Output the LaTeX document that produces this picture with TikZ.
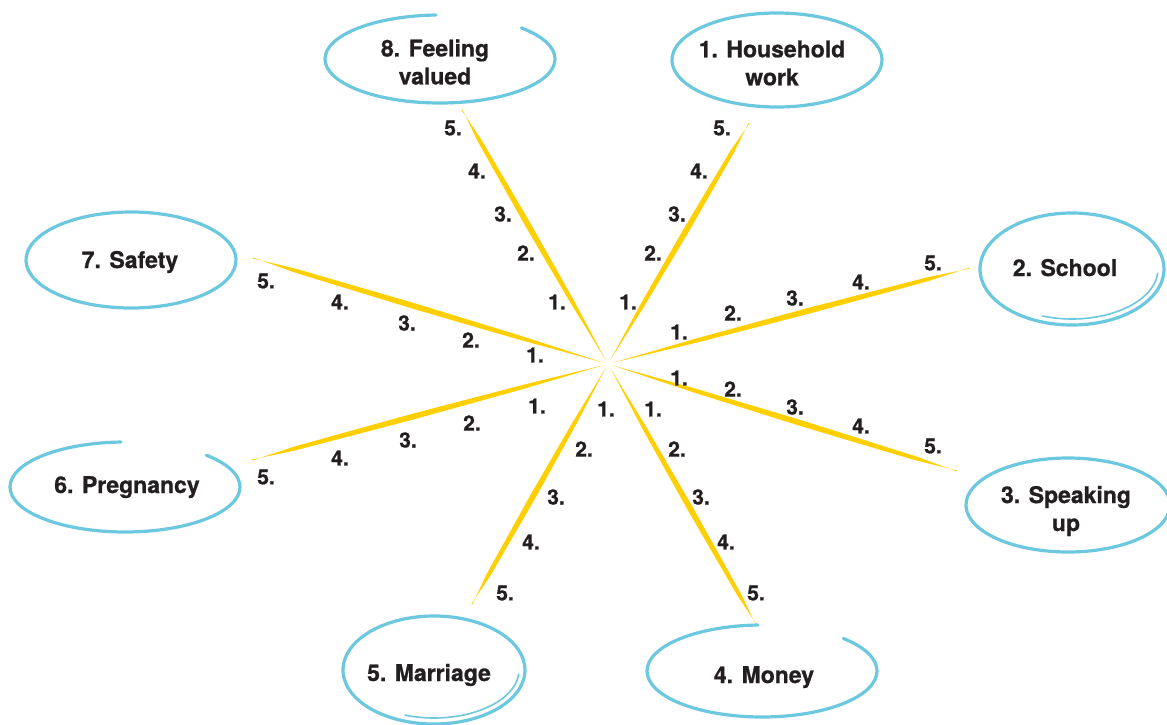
\documentclass[tikz,border=0pt]{standalone}
\usepackage{fontspec}
\setmainfont{TeX Gyre Heros}[BoldFeatures={FakeBold=0.8}]
\usetikzlibrary{calc}
\definecolor{ringblue}{RGB}{108,200,222}
\definecolor{spokeyellow}{RGB}{255,207,0}
\definecolor{ink}{RGB}{35,31,32}
\begin{document}
\begin{tikzpicture}[x=1pt,y=-1pt,
  spoke/.style={fill=spokeyellow},
  ring/.style={draw=ringblue,line width=3.2pt,line cap=round},
  ringthin/.style={draw=ringblue,line width=1.6pt,line cap=round},
  num/.style={text=ink,font=\fontsize{21}{24}\selectfont\bfseries,inner sep=0pt},
  topic/.style={text=ink,font=\fontsize{23}{28}\selectfont\bfseries,inner sep=0pt,align=center}]
\useasboundingbox (0,0) rectangle (1167,725);
\fill[white] (0,0) rectangle (1167,725);

% centre and spoke ends
\coordinate (c) at (608,364);
\coordinate (e1) at (749,123);
\coordinate (e2) at (970,268);
\coordinate (e3) at (957,471);
\coordinate (e4) at (757,626);
\coordinate (e5) at (472,604);
\coordinate (e6) at (252,460);
\coordinate (e7) at (253,258);
\coordinate (e8) at (462,110);

% tapered spokes
\foreach \i in {1,...,8}{
  \fill[spoke] ($(c)!5pt!(e\i)$)
    -- ($(c)!0.25!(e\i)!2.1pt!90:(e\i)$)
    -- ($(c)!0.55!(e\i)!2.9pt!90:(e\i)$)
    -- ($(c)!0.88!(e\i)!2.0pt!90:(e\i)$)
    -- ($(e\i)!0.5pt!90:(c)$)
    -- ($(e\i)!0.5pt!-90:(c)$)
    -- ($(c)!0.88!(e\i)!2.0pt!-90:(e\i)$)
    -- ($(c)!0.55!(e\i)!2.9pt!-90:(e\i)$)
    -- ($(c)!0.25!(e\i)!2.1pt!-90:(e\i)$)
    -- cycle;
}

% scale numbers
\foreach \x/\y [count=\k] in {628/302,653/253,677/214,699/171,722/128}
  \node[num] (a1-\k) at (\x,\y) {\k.};
\foreach \x/\y [count=\k] in {679/332,733/313,795/298,861/282,933/263}
  \node[num] (a2-\k) at (\x,\y) {\k.};
\foreach \x/\y [count=\k] in {679/378,733/389,795/407,861/426,933/446}
  \node[num] (a3-\k) at (\x,\y) {\k.};
\foreach \x/\y [count=\k] in {653/409,677/449,701/497,726/542,756/593}
  \node[num] (a4-\k) at (\x,\y) {\k.};
\foreach \x/\y [count=\k] in {606/409,584/449,556/497,531/542,505/593}
  \node[num] (a5-\k) at (\x,\y) {\k.};
\foreach \x/\y [count=\k] in {537/406,472/423,408/440,340/458,266/477}
  \node[num] (a6-\k) at (\x,\y) {\k.};
\foreach \x/\y [count=\k] in {535/355,471/340,407/323,340/302,266/281}
  \node[num] (a7-\k) at (\x,\y) {\k.};
\foreach \x/\y [count=\k] in {557/302,526/253,503/214,477/171,453/128}
  \node[num] (a8-\k) at (\x,\y) {\k.};

% ring centres
\coordinate (r1) at (777,60);
\coordinate (r2) at (1072,269);
\coordinate (r3) at (1068,505);
\coordinate (r4) at (762,671);
\coordinate (r5) at (434,670);
\coordinate (r6) at (125,487);
\coordinate (r7) at (131,260);
\coordinate (r8) at (440,59);

% rings (hand-drawn loops)
\draw[ring] ($(r1)+(80:105pt and 47pt)$) arc[start angle=80,end angle=-285,x radius=105pt,y radius=47pt];
\draw[ring] ($(r2)+(100:92pt and 56pt)$) arc[start angle=100,end angle=-265,x radius=92pt,y radius=56pt];
\draw[ringthin] ($(r2)+(-5:86pt and 50pt)$) arc[start angle=-5,end angle=-110,x radius=86pt,y radius=50pt];
\draw[ring] ($(r3)+(80:102pt and 47pt)$) arc[start angle=80,end angle=-285,x radius=102pt,y radius=47pt];
\draw[ring] ($(r4)+(45:115pt and 46pt)$) arc[start angle=45,end angle=-268,x radius=115pt,y radius=46pt];
\draw[ring] ($(r5)+(100:91pt and 54pt)$) arc[start angle=100,end angle=-265,x radius=91pt,y radius=54pt];
\draw[ringthin] ($(r5)+(-5:85pt and 48pt)$) arc[start angle=-5,end angle=-110,x radius=85pt,y radius=48pt];
\draw[ring] ($(r6)+(45:115pt and 45pt)$) arc[start angle=45,end angle=-268,x radius=115pt,y radius=45pt];
\draw[ring] ($(r7)+(80:105pt and 48pt)$) arc[start angle=80,end angle=-285,x radius=105pt,y radius=48pt];
\draw[ring] ($(r8)+(45:115pt and 44pt)$) arc[start angle=45,end angle=-268,x radius=115pt,y radius=44pt];

% topic labels
\node[topic] (t1) at (772,63) {1. Household\\work};
\node[topic,anchor=base] (t2) at (1065,276) {2. School};
\node[topic] (t3) at (1066,511) {3. Speaking\\up};
\node[topic,anchor=base] (t4) at (764,683) {4. Money};
\node[topic,anchor=base] (t5) at (429,681) {5. Marriage};
\node[topic,anchor=base] (t6) at (127,493) {6. Pregnancy};
\node[topic,anchor=base] (t7) at (130,268) {7. Safety};
\node[topic] (t8) at (435,62) {8. Feeling\\valued};
\end{tikzpicture}
\end{document}
